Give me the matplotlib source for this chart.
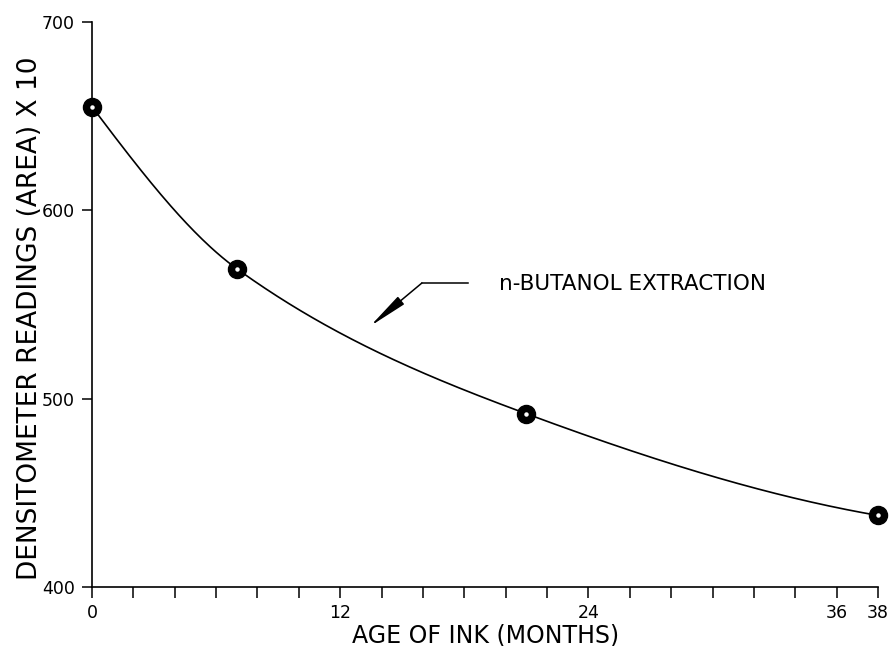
import numpy as np
import matplotlib
matplotlib.use("Agg")
import matplotlib.pyplot as plt

# Data
age_months = [0, 7, 21, 38]
readings = [655, 569, 492, 438]

x_major = [0, 12, 24, 36, 38]
x_major_labels = ["0", "12", "24", "36", "38"]
x_minor = list(range(0, 39, 2))
y_ticks = [400, 500, 600, 700]
y_tick_labels = ["400", "500", "600", "700"]

annotation_text = "n-BUTANOL EXTRACTION"
x_label = "AGE OF INK (MONTHS)"
y_label = "DENSITOMETER READINGS (AREA) X 10"


def pchip(x, y, xs):
    x = np.asarray(x, float)
    y = np.asarray(y, float)
    h = np.diff(x)
    d = np.diff(y) / h
    n = len(x)
    m = np.zeros(n)
    for k in range(1, n - 1):
        if d[k - 1] * d[k] <= 0:
            m[k] = 0
        else:
            w1 = 2 * h[k] + h[k - 1]
            w2 = h[k] + 2 * h[k - 1]
            m[k] = (w1 + w2) / (w1 / d[k - 1] + w2 / d[k])
    m[0] = ((2 * h[0] + h[1]) * d[0] - h[0] * d[1]) / (h[0] + h[1])
    m[-1] = ((2 * h[-1] + h[-2]) * d[-1] - h[-1] * d[-2]) / (h[-1] + h[-2])
    out = np.empty_like(xs)
    for j, xv in enumerate(xs):
        i = int(np.clip(np.searchsorted(x, xv, side="right") - 1, 0, n - 2))
        t = (xv - x[i]) / h[i]
        h00 = 2 * t ** 3 - 3 * t ** 2 + 1
        h10 = t ** 3 - 2 * t ** 2 + t
        h01 = -2 * t ** 3 + 3 * t ** 2
        h11 = t ** 3 - t ** 2
        out[j] = h00 * y[i] + h10 * h[i] * m[i] + h01 * y[i + 1] + h11 * h[i] * m[i + 1]
    return out


plt.rcParams['font.family'] = ['DejaVu Sans']

fig = plt.figure(figsize=(8.92, 6.46), dpi=100)
ax = fig.add_axes([0.1031, 0.0913, 0.9843 - 0.1031, 0.966 - 0.0913])

xs = np.linspace(age_months[0], age_months[-1], 400)
ys = pchip(age_months, readings, xs)
ax.plot(xs, ys, color="black", lw=1.2, zorder=2)
ax.plot(age_months, readings, "o", color="black", ms=13, zorder=3, clip_on=False)
ax.plot(age_months, readings, "o", color="white", ms=2.2, zorder=4, clip_on=False)

ax.set_xlim(0, 38)
ax.set_ylim(400, 700)

ax.spines["top"].set_visible(False)
ax.spines["right"].set_visible(False)
ax.spines["left"].set_linewidth(1.2)
ax.spines["bottom"].set_linewidth(1.2)

ax.set_xticks(x_minor, minor=True)
ax.set_xticks(x_major)
ax.set_xticklabels(x_major_labels, fontsize=12.5)
ax.set_yticks(y_ticks)
ax.set_yticklabels(y_tick_labels, fontsize=12.5)
ax.tick_params(axis="x", which="both", direction="out", length=8, width=1.1, pad=4)
ax.tick_params(axis="y", direction="out", length=7, width=1.1, pad=5.5)

fig.text(486 / 892, 1 - 635 / 646, x_label, fontsize=17,
         ha="center", va="center")
fig.text(30 / 892, 1 - 318 / 646, y_label, fontsize=19,
         ha="center", va="center", rotation=90)

# annotation with leader line and arrow
ax.plot([15.95, 18.2], [561.4, 561.4], color="black", lw=1.1)
ax.annotate("", xy=(13.45, 538.5), xytext=(15.95, 561.4),
            arrowprops=dict(arrowstyle="-|>,head_length=2.4,head_width=0.3",
                            color="black", lw=1.1, shrinkA=0, shrinkB=0))
ax.text(19.7, 561.0, annotation_text, fontsize=15.5,
        va="center", ha="left")

fig.savefig("out.png", dpi=100)
